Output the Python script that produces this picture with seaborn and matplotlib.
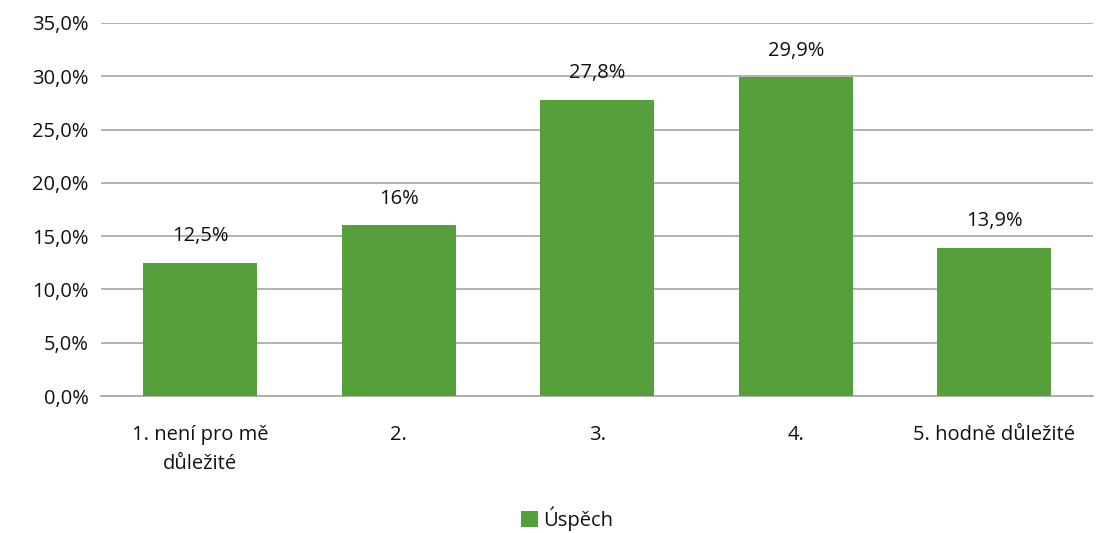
import matplotlib
matplotlib.use("Agg")
import matplotlib.pyplot as plt
import seaborn as sns
import pandas as pd
from matplotlib.ticker import FuncFormatter

# data
categories = ["1. není pro mě\ndůležité", "2.", "3.", "4.", "5. hodně důležité"]
values = [12.5, 16.0, 27.8, 29.9, 13.9]
value_labels = ["12,5%", "16%", "27,8%", "29,9%", "13,9%"]
series_name = "Úspěch"

df = pd.DataFrame({"kategorie": categories, "hodnota": values, "serie": series_name})

sns.set_style("white")
plt.rcParams["font.family"] = ["Open Sans", "DejaVu Sans"]

fig = plt.figure(figsize=(11.05, 5.33), dpi=100)
ax = fig.add_axes([0.0915, 0.257, 0.898, 0.700])

sns.barplot(data=df, x="kategorie", y="hodnota", hue="serie",
            palette=["#55A03A"], saturation=1, width=0.575,
            linewidth=0, ax=ax, zorder=3)

ax.set_ylim(0, 35)
ax.set_xlim(-0.5, 4.5)
ax.set_yticks(range(0, 36, 5))
ax.yaxis.set_major_formatter(FuncFormatter(lambda v, p: f"{v:.1f}%".replace(".", ",")))
ax.grid(axis="y", color="#a6a6a6", linewidth=1.2, zorder=0)
ax.set_xlabel("")
ax.set_ylabel("")
for s in ["top", "right", "left"]:
    ax.spines[s].set_visible(False)
ax.spines["bottom"].set_color("#a6a6a6")
ax.spines["bottom"].set_linewidth(1.2)
ax.tick_params(axis="both", length=0, labelsize=14.5, colors="#111111", pad=9)
ax.tick_params(axis="x", pad=21)
for t in ax.get_xticklabels():
    t.set_linespacing(1.6)

for i, (v, lab) in enumerate(zip(values, value_labels)):
    ax.annotate(lab, (i, v), xytext=(0, 12), textcoords="offset points",
                ha="center", va="bottom", fontsize=14.5, color="#111111")

ax.legend(loc="lower center", bbox_to_anchor=(0.47, -0.41), frameon=False,
          fontsize=14.5, handlelength=0.8, handleheight=0.8, handletextpad=0.3,
          labelcolor="#111111")

fig.savefig("out.png", dpi=100)
